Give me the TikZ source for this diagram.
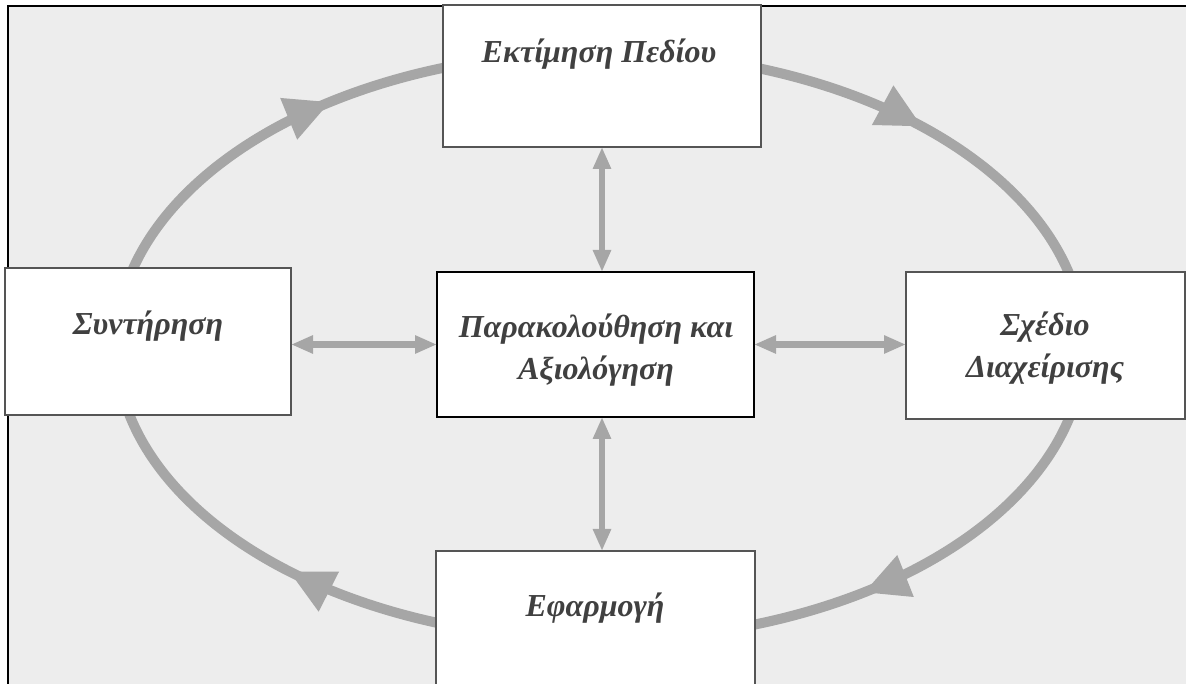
\documentclass[tikz,border=0pt]{standalone}
\usepackage{fontspec}
\setmainfont{Liberation Serif}
\usetikzlibrary{arrows.meta,decorations.markings,calc}
\definecolor{bgc}{HTML}{EDEDED}
\definecolor{arrc}{HTML}{A6A6A6}
\definecolor{boxc}{HTML}{555555}
\definecolor{txtc}{HTML}{404040}
\pgfdeclarelayer{back}
\pgfdeclarelayer{mid}
\pgfsetlayers{back,mid,main}
\begin{document}
\begin{tikzpicture}[x=1pt,y=1pt,
 box/.style={draw=boxc, line width=1.5pt, fill=white, inner sep=0pt, outer sep=0pt},
 lbl/.style={text=txtc, font=\fontsize{32}{42}\selectfont\bfseries\itshape, align=center, anchor=base, inner sep=0pt},
 dbl/.style={draw=arrc, line width=6.5pt, {Triangle[length=22pt,width=17pt]}-{Triangle[length=22pt,width=17pt]}},
 cyc/.style={draw=arrc, line width=10pt, postaction={decorate},
   decoration={markings, mark=at position #1 with {\arrow{Triangle[length=45pt,width=42pt]}}}}
]
\useasboundingbox (0,0) rectangle (1186,684);
\clip (0,0) rectangle (1186,684);
\begin{pgfonlayer}{back}
\fill[bgc] (8,0) rectangle (1186,678);
\draw[black, line width=1.5pt] (8,0) -- (8,678) -- (1186,678);
\end{pgfonlayer}
\coordinate (ec) at (600,338);
% boxes
\node[box, minimum width=318pt, minimum height=142pt] (T) at (602,608) {};
\node[box, minimum width=286pt, minimum height=147pt] (L) at (148,342.5) {};
\node[box, draw=black, line width=2.2pt, minimum width=317pt, minimum height=145pt] (C) at (595.5,339.5) {};
\node[box, minimum width=279pt, minimum height=147pt] (R) at (1045.5,338.5) {};
\node[box, minimum width=319pt, minimum height=149pt] (B) at (595.5,58.5) {};
% labels (base = baseline of the last line)
\node[lbl] (tT) at (599,621) {Εκτίμηση Πεδίου};
\node[lbl] (tC) at (596,304) {Παρακολούθηση και\\Αξιολόγηση};
\node[lbl] (tL) at (148,349) {Συντήρηση};
\node[lbl] (tR) at (1045,306) {Σχέδιο\\Διαχείρισης};
\node[lbl] (tB) at (595,67) {Εφαρμογή};
% cycle arcs
\coordinate (LT) at ($(ec)+(166:484 and 294)$);
\coordinate (TR) at ($(ec)+(72.5:484 and 294)$);
\coordinate (RB) at ($(ec)+(-13:484 and 294)$);
\coordinate (BL) at ($(ec)+(252:484 and 294)$);
\begin{pgfonlayer}{mid}
\draw[cyc=0.67] (LT) arc[start angle=166, end angle=107, x radius=484, y radius=294];
\draw[cyc=0.462] (TR) arc[start angle=72.5, end angle=13, x radius=484, y radius=294];
\draw[cyc=0.69] (RB) arc[start angle=-13, end angle=-73, x radius=484, y radius=294];
\draw[cyc=0.42] (BL) arc[start angle=252, end angle=192, x radius=484, y radius=294];
\end{pgfonlayer}
% double arrows
\draw[dbl] (T.south) -- (T.south |- C.north);
\draw[dbl] (C.south -| T.south) -- (B.north -| T.south);
\draw[dbl] (C.west -| L.east) -- (C.west);
\draw[dbl] (C.east) -- (C.east -| R.west);
\end{tikzpicture}
\end{document}
